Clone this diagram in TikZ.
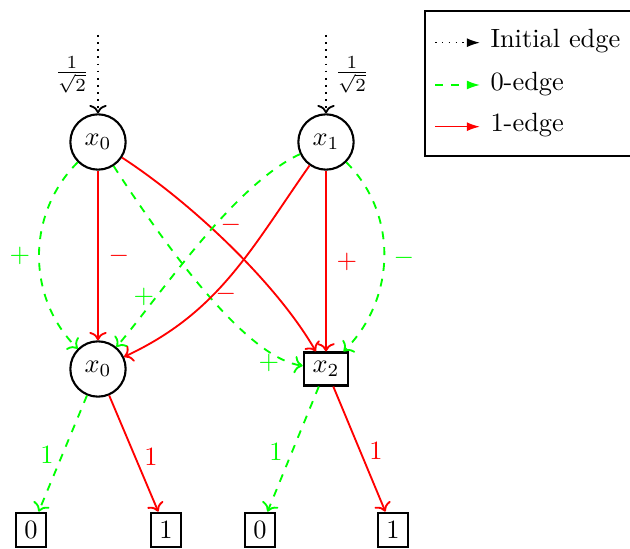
\documentclass[tikz,border=0pt]{standalone}
\usetikzlibrary{arrows.meta}
\begin{document}
\begin{tikzpicture}[x=0.3788pt,y=0.3788pt,
  vnode/.style={circle,draw,thick,inner sep=3.33pt},
  tnode/.style={rectangle,draw,thick},
  zedge/.style={->,green,dashed,line width=0.7pt},
  oedge/.style={->,red,line width=0.7pt},
  iedge/.style={->,dotted,line width=0.7pt},
  zlab/.style={text=green},
  olab/.style={text=red},
  legtext/.style={anchor=base west,inner sep=0pt}]
\useasboundingbox (0,0) rectangle (630,-549);
% nodes
\node[vnode] (a) at (98,-142) {$x_0$};
\node[vnode] (b) at (326,-142) {$x_1$};
\node[vnode] (c) at (98,-369) {$x_0$};
\node[tnode] (d) at (326,-369) {$x_2$};
\node[tnode] (t1) at (31,-530) {$0$};
\node[tnode] (t2) at (166,-530) {$1$};
\node[tnode] (t3) at (260,-530) {$0$};
\node[tnode] (t4) at (393,-530) {$1$};
% initial edges
\coordinate (sa) at (98,-35);
\coordinate (sb) at (326,-35);
\draw[iedge] (sa) -- (a);
\draw[iedge] (sb) -- (b);
\node (wa) at (72,-75) {$\frac{1}{\sqrt{2}}$};
\node (wb) at (352,-75) {$\frac{1}{\sqrt{2}}$};
% edges
\draw[zedge] (a) to[out=-135,in=135] (c);
\draw[oedge] (a) -- (c);
\draw[zedge] (a) to[out=-57,in=172,out looseness=1.25,in looseness=0.45] (d);
\draw[oedge] (a) to[out=-33,in=120,looseness=0.75] (d);
\draw[zedge] (b) to[out=-155,in=50,looseness=0.7] (c);
\draw[oedge] (b) to[out=-125,in=25] (c);
\draw[oedge] (b) -- (d);
\draw[zedge] (b) to[out=-45,in=45] (d);
\draw[zedge] (c) -- (t1);
\draw[oedge] (c) -- (t2);
\draw[zedge] (d) -- (t3);
\draw[oedge] (d) -- (t4);
% labels
\node[zlab] (l1) at (20,-256) {$+$};
\node[olab] (l2) at (119,-256) {$-$};
\node[olab] (l3) at (231,-225) {$-$};
\node[zlab] (l4) at (144,-297) {$+$};
\node[olab] (l5) at (226,-294) {$-$};
\node[olab] (l6) at (347,-262) {$+$};
\node[zlab] (l7) at (404,-258) {$-$};
\node[zlab] (l8) at (269,-363) {$+$};
\node[zlab] (l9) at (47,-455) {$1$};
\node[olab] (l10) at (151,-457) {$1$};
\node[zlab] (l11) at (276,-452) {$1$};
\node[olab] (l12) at (376,-451) {$1$};
% legend
\draw[thick] (425,-11) rectangle (640,-156);
\coordinate (g1s) at (435,-42.7);
\coordinate (g1e) at (480,-42.7);
\coordinate (g2s) at (435,-85);
\coordinate (g2e) at (480,-85);
\coordinate (g3s) at (435,-126.7);
\coordinate (g3e) at (480,-126.7);
\draw[dotted,semithick,-{Latex[length=5pt,width=3.4pt]}] (g1s) -- (g1e);
\draw[dashed,green,semithick,-{Latex[length=5pt,width=3.4pt]}] (g2s) -- (g2e);
\draw[red,semithick,-{Latex[length=5pt,width=3.4pt]}] (g3s) -- (g3e);
\node[legtext] (e1) at (490,-48) {Initial edge};
\node[legtext] (e2) at (490,-90.5) {0-edge};
\node[legtext] (e3) at (490,-131.5) {1-edge};
\end{tikzpicture}
\end{document}
